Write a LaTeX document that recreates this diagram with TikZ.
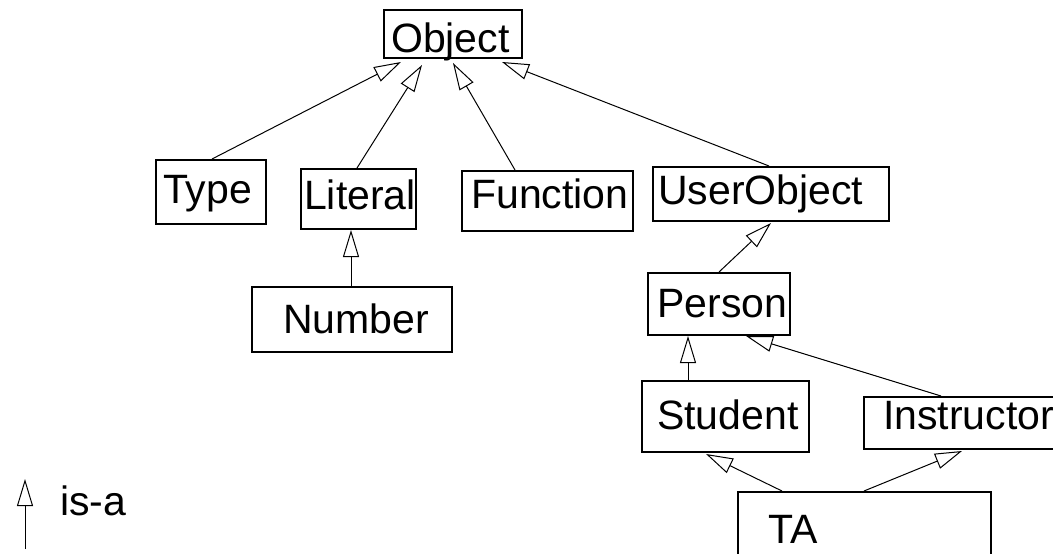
\documentclass[tikz,border=0pt]{standalone}
\usepackage{fontspec}
\setmainfont{Liberation Sans}
\usetikzlibrary{arrows.meta,calc}
\begin{document}
\begin{tikzpicture}[x=1pt,y=-1pt,
  box/.style={draw,line width=2pt,rectangle,inner sep=0pt},
  lbl/.style={anchor=base west,inner sep=0pt,font=\fontsize{41}{49}\selectfont},
  isa/.style={line width=1pt,-{Triangle[open,length=27pt,width=16pt,line width=1pt,fill=white]}}]
\clip (0,0) rectangle (1053,554);
% boxes
\node[box,minimum width=138pt,minimum height=48pt] (obj) at (453,34) {};
\node[box,minimum width=110pt,minimum height=64pt] (type) at (211,192) {};
\node[box,minimum width=115pt,minimum height=60pt] (literal) at (358.5,199) {};
\node[box,minimum width=171pt,minimum height=60pt] (function) at (547.5,201) {};
\node[box,minimum width=236pt,minimum height=54pt] (userobj) at (771,194) {};
\node[box,minimum width=200pt,minimum height=65pt] (number) at (352,319.5) {};
\node[box,minimum width=142pt,minimum height=62pt] (person) at (719,304) {};
\node[box,minimum width=167pt,minimum height=71pt] (student) at (725.5,416.5) {};
\node[box,minimum width=206pt,minimum height=52pt] (instructor) at (967,423) {};
\node[box,minimum width=253pt,minimum height=78pt] (ta) at (864.5,531) {};
% labels
\node[lbl] (tobj) at (391,52) {Object};
\node[lbl] (ttype) at (163,203) {Type};
\node[lbl] (tlit) at (304,209) {Literal};
\node[lbl] (tfun) at (471,208) {Function};
\node[lbl] (tuser) at (658,204) {UserObject};
\node[lbl] (tnum) at (283,333) {Number};
\node[lbl] (tper) at (657,317) {Person};
\node[lbl] (tstu) at (657,429) {Student};
\node[lbl] (tins) at (883,429) {Instructor};
\node[lbl] (tta) at (768,543) {TA};
% is-a connectors
\draw[isa] ($(type.north west)+(57,0)$) -- ($(obj.south west)+(18,3)$);
\draw[isa] ($(literal.north west)+(57,0)$) -- ($(obj.south west)+(39,6)$);
\draw[isa] ($(function.north west)+(54,0)$) -- ($(obj.south west)+(70,4)$);
\draw[isa] ($(userobj.north west)+(117,0)$) -- ($(obj.south west)+(119,3)$);
\draw[isa] ($(number.north west)+(100,0)$) -- ($(literal.south west)+(51,0)$);
\draw[isa] ($(person.north west)+(72,0)$) -- ($(userobj.south west)+(119,1)$);
\draw[isa] ($(student.north west)+(47,0)$) -- ($(person.south west)+(41,0)$);
\draw[isa] ($(instructor.north west)+(78,0)$) -- ($(person.south west)+(99,0)$);
\draw[isa] ($(ta.north west)+(45,0)$) -- ($(student.south west)+(65,1)$);
\draw[isa] ($(ta.north west)+(127,0)$) -- ($(instructor.south west)+(99,1)$);
% legend
\coordinate (lgA) at (25,549);
\coordinate (lgB) at (25,479);
\draw[isa] (lgA) -- (lgB);
\node[lbl] (tisa) at (60,515) {is-a};
\end{tikzpicture}
\end{document}
